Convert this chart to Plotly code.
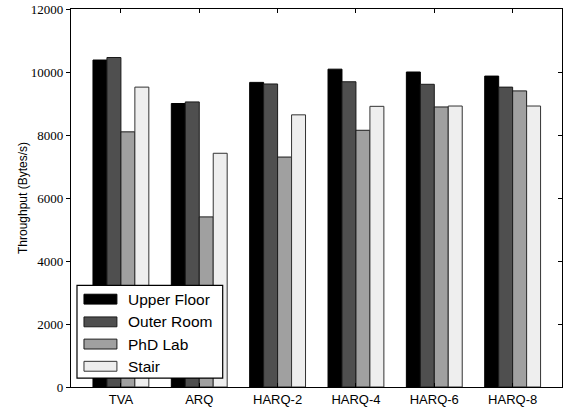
import plotly.graph_objects as go

# Throughput per retransmission scheme, measured at four locations
schemes = ["TVA", "ARQ", "HARQ-2", "HARQ-4", "HARQ-6", "HARQ-8"]
locations = ["Upper Floor", "Outer Room", "PhD Lab", "Stair"]
upper_floor = [10380, 9000, 9670, 10090, 10000, 9870]
outer_room = [10460, 9050, 9620, 9690, 9610, 9520]
phd_lab = [8100, 5400, 7300, 8150, 8890, 9400]
stair = [9520, 7420, 8640, 8910, 8920, 8920]
series = [upper_floor, outer_room, phd_lab, stair]
fills = ["#000000", "#4f4f4f", "#a0a0a0", "#eeeeee"]
edges = ["#000000", "#1a1a1a", "#1a1a1a", "#333333"]

W, H = 565, 409
L, R, T, B = 71, 2, 8, 18
pw, ph = W - L - R, H - T - B
XR = [-0.637, 5.63]
YR = [0, 12000]


def px(x):
    return (x - L) / pw


def py(y):
    return (H - B - y) / ph


fig = go.Figure()
for name, vals, fc, ec in zip(locations, series, fills, edges):
    fig.add_trace(go.Bar(
        x=schemes, y=vals, name=name,
        marker=dict(color=fc, line=dict(color=ec, width=1)),
        showlegend=False,
    ))

# invisible trace that carries the mirrored top/right tick axes
fig.add_trace(go.Scatter(x=schemes, y=[0] * len(schemes), xaxis="x2", yaxis="y2",
                         mode="markers", marker=dict(opacity=0), showlegend=False,
                         hoverinfo="skip"))

# hand-built legend with wide swatches
shapes = [dict(type="rect", xref="paper", yref="paper",
               x0=px(77), x1=px(223), y0=py(382), y1=py(288),
               line=dict(color="black", width=1.2), fillcolor="white", layer="above")]
annotations = []
row_y = [302, 325, 347.5, 370]
for name, fc, ec, ry in zip(locations, fills, edges, row_y):
    shapes.append(dict(type="rect", xref="paper", yref="paper",
                       x0=px(84), x1=px(117), y0=py(ry + 5), y1=py(ry - 5),
                       line=dict(color=ec, width=1), fillcolor=fc, layer="above"))
    annotations.append(dict(x=px(126), y=py(ry), xref="paper", yref="paper",
                            text=name, showarrow=False, xanchor="left", yanchor="middle",
                            font=dict(family="Liberation Sans", size=15.5, color="black")))

fig.update_layout(
    width=W, height=H,
    margin=dict(l=L, r=R, t=T, b=B, pad=0),
    paper_bgcolor="white", plot_bgcolor="white",
    barmode="group", bargap=0.287, bargroupgap=0,
    shapes=shapes, annotations=annotations,
    xaxis=dict(
        type="category", categoryorder="array", categoryarray=schemes,
        range=XR,
        showline=True, linecolor="black", linewidth=1.3, mirror=True,
        ticks="inside", ticklen=4, tickcolor="black",
        tickfont=dict(family="Liberation Sans", size=13, color="black"),
        showgrid=False, zeroline=False,
    ),
    yaxis=dict(
        range=YR, dtick=2000, tickformat="d",
        showline=True, linecolor="black", linewidth=1.3, mirror=True,
        ticks="outside", ticklen=4, tickcolor="black",
        tickfont=dict(family="Liberation Serif", size=13, color="black"),
        title=dict(text="Throughput (Bytes/s)", standoff=0,
                   font=dict(family="Liberation Sans", size=12, color="black")),
        showgrid=False, zeroline=False,
    ),
    xaxis2=dict(
        type="category", overlaying="x", side="top", anchor="y2", range=XR,
        categoryorder="array", categoryarray=schemes,
        ticks="inside", ticklen=4, tickwidth=1, tickcolor="black",
        showticklabels=False, showgrid=False, zeroline=False, showline=False,
    ),
    yaxis2=dict(
        overlaying="y", side="right", anchor="x2", range=YR, dtick=2000,
        ticks="inside", ticklen=4, tickwidth=1, tickcolor="black",
        showticklabels=False, showgrid=False, zeroline=False, showline=False,
    ),
)

fig.write_html("out.html")
